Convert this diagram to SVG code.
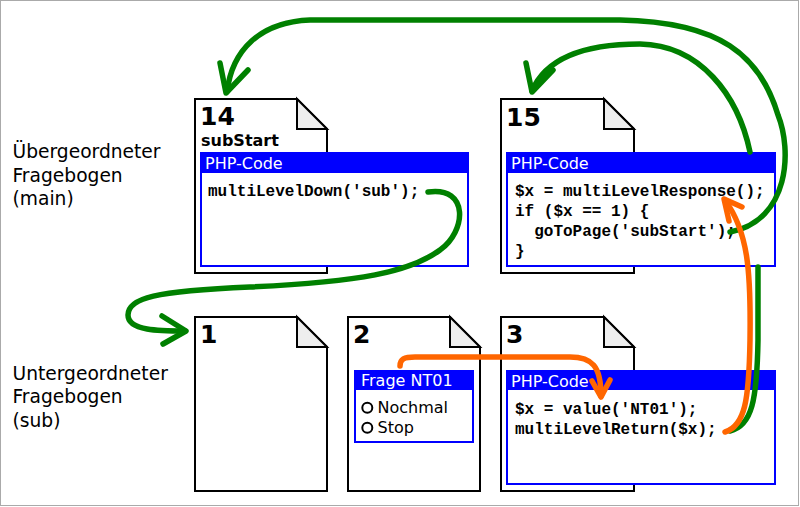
<svg xmlns="http://www.w3.org/2000/svg" width="800" height="507" viewBox="0 0 800 507">
<style>
.page{fill:#fff;stroke:#000;stroke-width:2;stroke-linejoin:miter}
.fold{fill:#eee;stroke:#000;stroke-width:2;stroke-linejoin:miter}
.box{fill:#fff;stroke:#00f;stroke-width:2}
.hdr{fill:#00f}
.hdrt{font-family:"DejaVu Sans",sans-serif;font-size:16px;fill:#fff}
.num{font-family:"DejaVu Sans",sans-serif;font-size:25px;font-weight:bold;fill:#000}
.lbl{font-family:"DejaVu Sans",sans-serif;font-size:18.67px;fill:#000}
.code{font-family:"Liberation Mono",monospace;font-size:16px;font-weight:bold;fill:#000;white-space:pre}
.opt{font-family:"DejaVu Sans",sans-serif;font-size:16px;fill:#000}
.radio{fill:#fff;stroke:#000;stroke-width:2}
.g{fill:none;stroke:#008000;stroke-width:5.5;stroke-linecap:round;stroke-linejoin:round}
.o{fill:none;stroke:#ff6600;stroke-width:5.5;stroke-linecap:round;stroke-linejoin:round}
</style>
<rect x="0.5" y="0.5" width="798" height="505" fill="#fff" stroke="#aaa" stroke-width="1"/>

<g id="label-main">
<text class="lbl" x="12.5" y="158">Übergeordneter</text>
<text class="lbl" x="12.5" y="181.5">Fragebogen</text>
<text class="lbl" x="12.5" y="205">(main)</text>
</g>
<g id="label-sub">
<text class="lbl" x="12.5" y="379.5">Untergeordneter</text>
<text class="lbl" x="12.5" y="403">Fragebogen</text>
<text class="lbl" x="12.5" y="426.5">(sub)</text>
</g>

<g id="page14">
<path class="page" d="M195,99 H297 L327,129 V273 H195 Z"/>
<path class="fold" d="M297,99 V129 H327 Z"/>
<text class="num" x="200" y="124.5" font-size="24">14</text>
<text x="201" y="145.5" font-family="DejaVu Sans,sans-serif" font-size="16" font-weight="bold">subStart</text>
<rect class="box" x="201" y="153" width="267" height="113"/>
<rect class="hdr" x="201" y="153" width="267" height="20"/>
<text class="hdrt" x="205" y="168.5">PHP-Code</text>
<text class="code" x="208" y="195.5">multiLevelDown('sub');</text>
</g>

<g id="page1">
<path class="page" d="M195,317 H297 L327,347 V491 H195 Z"/>
<path class="fold" d="M297,317 V347 H327 Z"/>
<text class="num" x="200" y="343">1</text>
</g>

<g id="page2">
<path class="page" d="M348,317 H450 L480,347 V491 H348 Z"/>
<path class="fold" d="M450,317 V347 H480 Z"/>
<text class="num" x="353" y="343">2</text>
<rect class="box" x="355" y="371" width="118" height="71"/>
<rect class="hdr" x="355" y="371" width="118" height="19"/>
<text class="hdrt" x="361" y="386">Frage NT01</text>
<circle class="radio" cx="367.3" cy="407.7" r="5"/>
<circle class="radio" cx="367.3" cy="427.7" r="5"/>
<text class="opt" x="377.5" y="413">Nochmal</text>
<text class="opt" x="377.5" y="433">Stop</text>
</g>

<g id="page3">
<path class="page" d="M501,317 H604 L634,347 V491 H501 Z"/>
<path class="fold" d="M604,317 V347 H634 Z"/>
<text class="num" x="506" y="343">3</text>
<rect class="box" x="507" y="371" width="268" height="113"/>
<rect class="hdr" x="507" y="371" width="268" height="19"/>
<text class="hdrt" x="511" y="386.5">PHP-Code</text>
<text class="code" x="515" y="413.5">$x = value('NT01');</text>
<text class="code" x="515" y="433.5">multiLevelReturn($x);</text>
</g>

<g id="page15">
<path class="page" d="M501,99 H604 L634,129 V273 H501 Z"/>
<path class="fold" d="M604,99 V129 H634 Z"/>
<text class="num" x="506" y="126">15</text>
<rect class="box" x="507" y="153" width="268" height="113"/>
<rect class="hdr" x="507" y="153" width="268" height="20"/>
<text class="hdrt" x="511" y="168.5">PHP-Code</text>
<text class="code" x="515" y="195.5">$x = multiLevelResponse();</text>
<text class="code" x="515" y="215.5">if ($x == 1) {</text>
<text class="code" x="515" y="235.5">  goToPage('subStart');</text>
<text class="code" x="515" y="255.5">}</text>
</g>

<g id="connectors">
<path class="g" d="M428,192 C470,186 466,232 440,250 C410,272 360,282 250,287 C155,291 128,298 128,315 C128,331 160,331 185,331"/>
<path class="g" d="M162,316 L186,331 L163,344"/>
<path class="g" d="M730,232 C790,220 792,150 778,115 C760,55 720,22 620,20 L310,20 C260,22 232,50 227,92"/>
<path class="g" d="M220,63 L226,93 L248,70"/>
<path class="g" d="M730,431 C752,426 757,400 758,340 L758,267 M750,152 C738,95 700,45 640,44 C580,44 545,60 532,91"/>
<path class="g" d="M526,63 L532,92 L553,70"/>
<path class="o" d="M400,366 C400,359 404,357 415,357 L570,357 C592,357 601,366 601,396"/>
<path class="o" d="M592,381 L601,397 L610,380"/>
<path class="o" d="M725,432 C745,426 749,400 750,340 C751,270 748,232 725,200"/>
<path class="o" d="M729,221 L724,199 L742,207"/>
</g>
</svg>
